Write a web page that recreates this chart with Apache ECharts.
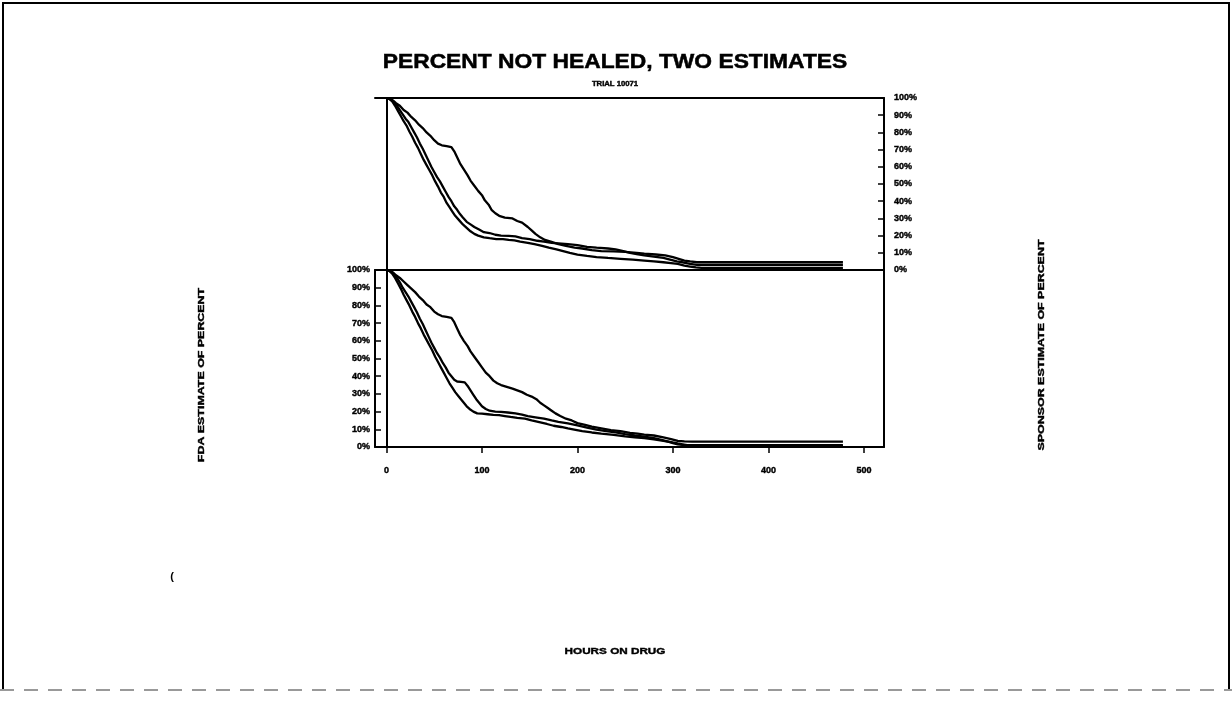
<!DOCTYPE html>
<html>
<head>
<meta charset="utf-8">
<script src="https://cdn.jsdelivr.net/npm/echarts@6/dist/echarts.min.js"></script>
<style>
html,body{margin:0;padding:0;background:#fff;}
#c{width:1232px;height:709px;}
</style>
</head>
<body>
<div id="c"></div>
<script>
// ---- data ----
const titleText = 'PERCENT NOT HEALED, TWO ESTIMATES';
const subtitleText = 'TRIAL 10071';
const xTitle = 'HOURS ON DRUG';
const leftTitle = 'FDA ESTIMATE OF PERCENT';
const rightTitle = 'SPONSOR ESTIMATE OF PERCENT';
const hourTicks = [0, 100, 200, 300, 400, 500];

// Sponsor estimate (top panel): [hours, percent not healed]
const sponsor1 = [[0,100],[3,99.5],[7,98.5],[10,97],[14,95.5],[18,93],[22,91.5],[26,89],[30,87],[34,84.5],[38,82.5],[42,80],[46,78],[50,75.5],[54,73.5],[58,72.5],[63,72],[68,71.5],[71,69],[74,65.5],[77,62],[81,58.5],[85,55],[88,52],[92,49],[96,46],[100,43.5],[103,40.5],[107,38],[110,35],[114,33],[118,31.5],[124,30.5],[132,30],[137,28.5],[142,27.5],[148,25],[152,23],[156,21],[161,19],[166,17.5],[172,16.5],[180,15],[188,14],[197,13],[205,12.5],[215,11.5],[225,11],[238,10.8],[250,10.5],[262,10],[270,9.5],[282,9],[292,8.5],[300,7.5],[306,6.5],[312,5.5],[318,5],[325,4.5],[478,4.5]];
const sponsor2 = [[0,100],[4,99.5],[8,97.5],[11,95.5],[14,93],[17,90.5],[20,88],[23,86],[26,83],[29,80],[32,77],[35,73.5],[38,70.5],[41,67],[44,63.5],[47,60],[50,57],[53,54],[56,51.5],[59,48.5],[62,45.5],[65,42.5],[68,40],[71,37],[74,35],[77,32.5],[80,30.5],[84,28],[88,26.5],[92,25],[97,23.5],[102,22],[108,21.5],[114,20.5],[120,20],[128,19.8],[135,19.5],[142,18.5],[150,18],[158,17],[165,16.5],[173,15.8],[180,15.5],[190,15],[200,14.5],[210,13.5],[220,13],[232,12.5],[240,12],[248,11],[255,10],[262,9.3],[270,8.5],[280,7.8],[290,7],[297,6],[304,5],[310,4.5],[318,3.5],[325,3],[478,3]];
const sponsor3 = [[0,100],[3,99.5],[6,98],[9,95.5],[12,92.5],[15,89.5],[18,86.5],[21,84],[24,80.5],[27,77.5],[30,74],[33,71],[36,67.5],[39,64],[42,61],[45,58],[48,55],[51,51.5],[54,48.5],[57,45],[60,42.5],[63,39],[66,36.5],[69,34],[72,31.5],[76,29],[80,26.5],[84,24.5],[88,22.5],[92,21],[96,20],[102,19],[108,18.5],[115,18],[122,18],[128,17.5],[134,17.2],[140,16.5],[148,15.8],[155,15],[163,14],[170,13],[178,12],[185,11],[192,10],[200,9],[210,8.2],[220,7.5],[232,7],[245,6.5],[258,6],[270,5.5],[280,5],[290,4.5],[298,4],[305,3.5],[312,2.5],[318,2],[324,1.5],[330,1.2],[478,1.2]];

// FDA estimate (bottom panel)
const fda1 = [[0,100],[3,99.5],[7,98.5],[10,97],[14,95.5],[18,93.5],[22,91.5],[26,89.5],[30,87.5],[34,85],[38,83],[42,80.5],[46,79],[50,76.5],[54,75],[58,74],[63,73.5],[68,73],[71,70.5],[74,67],[77,63.5],[81,60],[85,57],[88,54],[92,51],[96,48],[100,45],[104,42],[108,40],[112,37.5],[116,36],[120,35],[126,34],[132,33],[137,32],[142,31],[147,29.5],[152,28.5],[157,27],[161,25],[165,23.5],[169,22],[173,20.5],[177,19],[182,17.5],[188,16],[194,15],[200,13.5],[208,12.5],[215,11.5],[225,10.5],[235,9.5],[245,9],[255,8],[263,7.5],[270,7],[280,6.5],[290,5.5],[298,4.5],[305,3.5],[312,3.2],[320,3],[478,3]];
const fda2 = [[0,100],[4,99.5],[8,97.5],[11,95.5],[14,93],[17,90],[20,87.5],[23,85],[26,82],[29,79],[32,76],[35,72.5],[38,69.5],[41,66],[44,62.5],[47,59],[50,56],[53,53],[56,50.5],[59,47.5],[62,45],[65,42],[68,40],[71,38],[74,37],[78,36.8],[82,36.5],[85,34.5],[88,32],[91,29.5],[94,27],[97,25],[100,23],[104,21.5],[108,20.5],[114,20],[120,19.8],[127,19.5],[135,19],[142,18.3],[148,17.5],[156,16.8],[165,16],[173,15],[180,14.2],[190,13.3],[200,12.2],[210,11],[220,9.8],[230,9],[240,8.2],[250,7.3],[260,6.5],[270,5.8],[280,5],[288,4],[295,3],[300,2.2],[305,1.5],[312,1],[320,0.5],[478,0.5]];
const fda3 = [[0,100],[3,99.5],[6,98],[9,95.5],[12,92.5],[15,89.5],[18,86],[21,83],[24,80],[27,76.5],[30,73.5],[33,70],[36,67],[39,63.5],[42,60.5],[45,57.5],[48,54.5],[51,51],[54,48],[57,45],[60,42],[63,39],[66,36],[69,33.5],[72,31],[75,29],[78,27],[81,25],[84,23],[87,21.5],[91,20],[95,19],[100,18.8],[106,18.5],[112,18.2],[118,18],[124,17.5],[130,17],[137,16.5],[145,16],[152,15],[160,14],[168,13],[175,12],[183,11.3],[190,10.5],[198,9.7],[205,9],[215,8.2],[225,7.5],[238,6.8],[250,6],[260,5.5],[270,5],[280,4.3],[290,3.5],[298,2.8],[305,2],[310,1.5],[315,1],[478,1]];

// ---- chart ----
const FONT = '"Liberation Sans", Arial, sans-serif';
const BLK = '#000';
const chart = echarts.init(document.getElementById('c'), null, {renderer: 'canvas'});

const lineAxis = {show: true, onZero: false, lineStyle: {color: BLK, width: 2}};
const xCommon = {type: 'value', min: -12, max: 521, splitLine: {show: false}};
const lblStyle = {color: BLK, fontFamily: FONT, fontWeight: 'bold', fontSize: 9, textBorderColor: BLK, textBorderWidth: 0.4};

function curve(name, data, xi, yi, withZeroLine) {
  const s = {
    name, type: 'line', data, xAxisIndex: xi, yAxisIndex: yi,
    showSymbol: false, symbol: 'none', silent: true, animation: false,
    lineStyle: {color: BLK, width: 2.3}, clip: true
  };
  if (withZeroLine) {
    s.markLine = {
      silent: true, symbol: ['none', 'none'], animation: false,
      label: {show: false},
      lineStyle: {color: BLK, width: 2, type: 'solid'},
      data: [{xAxis: 0}]
    };
  }
  return s;
}

const option = {
  backgroundColor: '#fff',
  animation: false,
  grid: [
    {left: 375, right: 348, top: 98, height: 172},
    {left: 375, right: 348, top: 270, height: 177}
  ],
  xAxis: [
    Object.assign({}, xCommon, {gridIndex: 0, position: 'bottom', axisLine: lineAxis, axisTick: {show: false}, axisLabel: {show: false}}),
    Object.assign({}, xCommon, {gridIndex: 0, position: 'top', axisLine: lineAxis, axisTick: {show: false}, axisLabel: {show: false}}),
    Object.assign({}, xCommon, {gridIndex: 1, position: 'bottom', axisLine: lineAxis,
      axisTick: {show: true, inside: false, length: 6, customValues: hourTicks, lineStyle: {color: BLK, width: 1.5}},
      axisLabel: Object.assign({show: true, margin: 19, customValues: hourTicks}, lblStyle)})
  ],
  yAxis: [
    {gridIndex: 0, type: 'value', min: 0, max: 100, interval: 10, position: 'right',
      axisLine: lineAxis, splitLine: {show: false},
      axisTick: {show: true, inside: true, length: 6, lineStyle: {color: BLK, width: 1.5}},
      axisLabel: Object.assign({show: true, margin: 10, formatter: '{value}%'}, lblStyle)},
    {gridIndex: 1, type: 'value', min: 0, max: 100, interval: 10, position: 'left',
      axisLine: lineAxis, splitLine: {show: false},
      axisTick: {show: true, inside: true, length: 6, lineStyle: {color: BLK, width: 1.5}},
      axisLabel: Object.assign({show: true, margin: 5, formatter: '{value}%'}, lblStyle)},
    {gridIndex: 1, type: 'value', min: 0, max: 100, interval: 10, position: 'right',
      axisLine: lineAxis, splitLine: {show: false}, axisTick: {show: false}, axisLabel: {show: false}}
  ],
  series: [
    curve('Sponsor A', sponsor1, 0, 0, true),
    curve('Sponsor B', sponsor2, 0, 0, false),
    curve('Sponsor C', sponsor3, 0, 0, false),
    curve('FDA A', fda1, 2, 1, true),
    curve('FDA B', fda2, 2, 1, false),
    curve('FDA C', fda3, 2, 1, false)
  ],
  graphic: [
    // page frame
    {type: 'polyline', silent: true, shape: {points: [[3, 690], [3, 3], [1229, 3], [1229, 690]]}, style: {stroke: BLK, lineWidth: 2, fill: null}},
    {type: 'line', silent: true, shape: {x1: 0, y1: 690, x2: 1232, y2: 690}, style: {stroke: '#999', lineWidth: 2, lineDash: [14, 10]}},
    // titles
    {type: 'text', silent: true, x: 615, y: 62, scaleX: 1.14,
      style: {text: titleText, fill: BLK, font: 'bold 20px ' + FONT, textAlign: 'center', textVerticalAlign: 'middle', stroke: BLK, lineWidth: 0.5}},
    {type: 'text', silent: true, x: 615, y: 84, scaleX: 1.1,
      style: {text: subtitleText, fill: BLK, font: 'bold 7px ' + FONT, textAlign: 'center', textVerticalAlign: 'middle', stroke: BLK, lineWidth: 0.4}},
    {type: 'text', silent: true, x: 615, y: 652, scaleX: 1.3,
      style: {text: xTitle, fill: BLK, font: 'bold 9px ' + FONT, textAlign: 'center', textVerticalAlign: 'middle', stroke: BLK, lineWidth: 0.4}},
    {type: 'text', silent: true, x: 202, y: 375, rotation: Math.PI / 2, scaleX: 1.38,
      style: {text: leftTitle, fill: BLK, font: 'bold 9px ' + FONT, textAlign: 'center', textVerticalAlign: 'middle', stroke: BLK, lineWidth: 0.4}},
    {type: 'text', silent: true, x: 1042, y: 345, rotation: Math.PI / 2, scaleX: 1.38,
      style: {text: rightTitle, fill: BLK, font: 'bold 9px ' + FONT, textAlign: 'center', textVerticalAlign: 'middle', stroke: BLK, lineWidth: 0.4}},
    {type: 'text', silent: true, x: 172, y: 577,
      style: {text: '(', fill: BLK, font: 'bold 11px ' + FONT, textAlign: 'center', textVerticalAlign: 'middle'}}
  ]
};
chart.setOption(option);
</script>
</body>
</html>
